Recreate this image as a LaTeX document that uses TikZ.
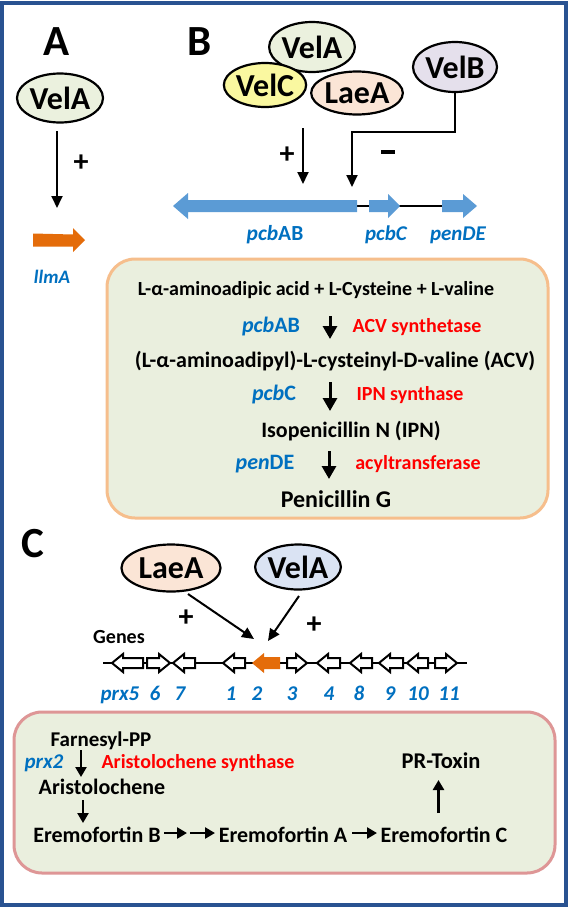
\documentclass[tikz,border=0pt]{standalone}
\usepackage{fontspec}
\setmainfont{Carlito}
\usetikzlibrary{arrows.meta,shapes.geometric}
\definecolor{framecol}{RGB}{41,82,145}
\definecolor{pgreen}{RGB}{235,241,222}
\definecolor{pyellow}{RGB}{250,248,160}
\definecolor{ppeach}{RGB}{251,229,214}
\definecolor{plav}{RGB}{229,224,236}
\definecolor{pblue}{RGB}{218,227,243}
\definecolor{boxfill}{RGB}{234,239,222}
\definecolor{boxBline}{RGB}{246,190,140}
\definecolor{boxCline}{RGB}{222,150,150}
\definecolor{trackblue}{RGB}{91,155,213}
\definecolor{lblue}{RGB}{0,112,192}
\definecolor{ored}{RGB}{255,0,0}
\definecolor{gorange}{RGB}{228,108,10}
\newcommand\fsz[1]{\fontsize{#1}{#1}\selectfont}
\newcommand\gL[4][]{\filldraw[genebox,#1] (#2,#4) -- ++(11,-9) -- ++(0,4) -- (#3,#4-5) -- (#3,#4+5) -- (#2+11,#4+5) -- ++(0,4) -- cycle;}
\newcommand\gR[4][]{\filldraw[genebox,#1] (#3,#4) -- ++(-11,-9) -- ++(0,4) -- (#2,#4-5) -- (#2,#4+5) -- (#3-11,#4+5) -- ++(0,4) -- cycle;}
\begin{document}
\begin{tikzpicture}[x=1pt,y=-1pt,
  prot/.style={ellipse, draw, line width=2.2pt, inner sep=0pt, font=\bfseries\fsz{32}},
  lbl/.style={font=\bfseries\fsz{43}, inner sep=0pt, anchor=base},
  plusmark/.style={font=\bfseries\fsz{30}, inner sep=0pt},
  tx/.style={font=\bfseries\fsz{#1}, inner sep=0pt, anchor=base},
  gn/.style={font=\bfseries\fsz{#1}, text=lblue, inner sep=0pt, anchor=base},
  gni/.style={font=\bfseries\itshape\fsz{#1}, text=lblue, inner sep=0pt, anchor=base},
  enz/.style={font=\bfseries\fsz{#1}, text=ored, inner sep=0pt, anchor=base},
  thinarr/.style={line width=1.8pt, -{Triangle[length=12pt,width=11pt]}},
  carr/.style={line width=2pt, -{Triangle[length=12pt,width=11pt]}},
  fatarr/.style={line width=3pt, -{Triangle[length=13pt,width=14pt]}},
  patharr/.style={line width=2.6pt, -{Triangle[length=10pt,width=11pt]}},
  genebox/.style={draw=black, fill=white, line width=2pt, line join=miter},
  panelbox/.style={fill=boxfill, line width=3pt, rounded corners=28pt, inner sep=0pt}]
\useasboundingbox (0,0) rectangle (572,908);
\fill[white] (0,0) rectangle (572,908);
\draw[framecol, line width=4pt] (2,2.5) rectangle (565.5,904.5);

% ---------- Panel A
\node[lbl] (labA) at (57,55) {A};
\node[prot, fill=pgreen, minimum width=86pt, minimum height=49pt] (AvelA) at (60,98) {VelA};
\coordinate (Aarrs) at (57,131);
\coordinate (Aarre) at (57,208);
\draw[thinarr] (Aarrs) -- (Aarre);
\node[plusmark] (Aplus) at (81,163) {+};
\fill[gorange] (85,240) -- ++(-12,-12) -- ++(0,6.5) -- (33,233.5) -- (33,246.5) -- (73,246.5) -- ++(0,5.5) -- cycle;
\node[gni=19] (llmA) at (52,283) {llmA};

% ---------- Panel B
\node[lbl] (labB) at (200,55) {B};
\node[prot, fill=pgreen, minimum width=71pt, minimum height=50pt] (BvelA) at (312,47) {VelA};
\node[prot, fill=pyellow, minimum width=76pt, minimum height=44pt] (BvelC) at (265,85) {VelC};
\node[prot, fill=ppeach, minimum width=75pt, minimum height=43pt] (BlaeA) at (357,93) {LaeA};
\node[prot, fill=plav, minimum width=84pt, minimum height=50pt] (BvelB) at (455,67) {VelB};
\coordinate (Bps) at (303,128);
\coordinate (Bpe) at (303,184);
\draw[thinarr] (Bps) -- (Bpe);
\node[plusmark] (Bplus) at (287,155) {+};
\coordinate (Bme) at (352,187);
\draw[thinarr] (BvelB.south) -- ++(0,39) -| (Bme);
\node[inner sep=0pt] (Bminus) at (388,152) {\rule{14pt}{3.5pt}};
\draw[line width=1.8pt] (357,206) -- (442,206);
\fill[trackblue] (173,206) -- ++(15,-13) -- ++(0,7) -- (357,200) -- (357,212) -- (188,212) -- ++(0,7) -- cycle;
\fill[trackblue] (400,206) -- ++(-12,-12) -- ++(0,6) -- (369,200) -- (369,212) -- (388,212) -- ++(0,6) -- cycle;
\fill[trackblue] (477,206) -- ++(-14,-12) -- ++(0,6) -- (442,200) -- (442,212) -- (463,212) -- ++(0,6) -- cycle;
\node[gn=21.5] (tpcbAB) at (275,240) {\textit{pcb}AB};
\node[gni=21] (tpcbC) at (386,240) {pcbC};
\node[gni=21] (tpenDE) at (458,240) {penDE};

\node[panelbox, draw=boxBline, minimum width=441pt, minimum height=259pt] (boxB) at (327.5,388.5) {};
\node[tx=20] (s1) at (316,295) {L-α-aminoadipic acid + L-Cysteine + L-valine};
\node[gn=22] (g1) at (271,332) {\textit{pcb}AB};
\node[enz=20] (e1) at (417,332) {ACV synthetase};
\node[tx=22] (s2) at (335,367) {(L-α-aminoadipyl)-L-cysteinyl-D-valine (ACV)};
\node[gn=22] (g2) at (274,400) {\textit{pcb}C};
\node[enz=20] (e2) at (410,400) {IPN synthase};
\node[tx=22] (s3) at (351,437) {Isopenicillin N (IPN)};
\node[gn=22] (g3) at (265,469) {\textit{pen}DE};
\node[enz=20] (e3) at (418,469) {acyltransferase};
\node[tx=24] (s4) at (336,507) {Penicillin G};
\coordinate (b1s) at (330,316); \coordinate (b1e) at (330,339);
\coordinate (b2s) at (330,382); \coordinate (b2e) at (330,411);
\coordinate (b3s) at (329,451); \coordinate (b3e) at (329,479);
\draw[fatarr] (b1s) -- (b1e);
\draw[fatarr] (b2s) -- (b2e);
\draw[fatarr] (b3s) -- (b3e);

% ---------- Panel C
\node[lbl] (labC) at (33,557) {C};
\node[prot, fill=ppeach, minimum width=99pt, minimum height=47pt] (ClaeA) at (171,568) {LaeA};
\node[prot, fill=pblue, minimum width=82pt, minimum height=45pt] (CvelA) at (298,567) {VelA};
\coordinate (CLs) at (188,594); \coordinate (CLe) at (254,639);
\coordinate (CVs) at (299,596); \coordinate (CVe) at (268,641);
\draw[carr] (CLs) -- (CLe);
\draw[carr] (CVs) -- (CVe);
\node[plusmark] (Cplus1) at (186,618) {+};
\node[plusmark] (Cplus2) at (314,625) {+};
\node[tx=20] (genes) at (119,643) {Genes};
\draw[line width=1.2pt] (103,663) -- (467,663);
\gL{112}{143}{663}
\gR{147}{170}{663}
\gL{173}{195}{663}
\gL{223}{245}{663}
\fill[gorange] (252,663) -- ++(12,-10) -- ++(0,4) -- (280,657) -- (280,669) -- (264,669) -- ++(0,4) -- cycle;
\gR{287}{307}{663}
\gL{317}{340}{663}
\gL{350}{372}{663}
\gL{379}{403}{663}
\gL{407}{428}{663}
\gR{435}{457}{663}
\node[gni=21] (n5) at (120,700) {prx5};
\node[gni=21] (n6) at (155,700) {6};
\node[gni=21] (n7) at (180,700) {7};
\node[gni=21] (n1) at (231,700) {1};
\node[gni=21] (n2) at (257,700) {2};
\node[gni=21] (n3) at (292,700) {3};
\node[gni=21] (n4) at (329,700) {4};
\node[gni=21] (n8) at (359,700) {8};
\node[gni=21] (n9) at (390,700) {9};
\node[gni=21] (n10) at (418,700) {10};
\node[gni=21] (n11) at (449,700) {11};

\node[panelbox, draw=boxCline, minimum width=541pt, minimum height=161pt] (boxC) at (284.5,792.5) {};
\node[tx=21] (farn) at (101,746) {Farnesyl-PP};
\node[gni=21] (prx2) at (44,768) {prx2};
\node[enz=20] (arsyn) at (198,768) {Aristolochene synthase};
\node[tx=22] (aris) at (102,794) {Aristolochene};
\node[tx=22] (ereB) at (97,842) {Eremofortin B};
\node[tx=22] (ereA) at (283,842) {Eremofortin A};
\node[tx=22] (ereC) at (444,842) {Eremofortin C};
\node[tx=22.5] (prtox) at (441,768) {PR-Toxin};
\coordinate (c1s) at (81,750); \coordinate (c1e) at (81,777);
\coordinate (c2s) at (83,800); \coordinate (c2e) at (83,823);
\coordinate (c3s) at (164,833); \coordinate (c3e) at (187,833);
\coordinate (c4s) at (190,833); \coordinate (c4e) at (215,833);
\coordinate (c5s) at (352,833); \coordinate (c5e) at (377,833);
\coordinate (c6s) at (438.5,813); \coordinate (c6e) at (438.5,780);
\draw[patharr] (c1s) -- (c1e);
\draw[patharr] (c2s) -- (c2e);
\draw[patharr] (c3s) -- (c3e);
\draw[patharr] (c4s) -- (c4e);
\draw[patharr] (c5s) -- (c5e);
\draw[patharr] (c6s) -- (c6e);
\end{tikzpicture}
\end{document}
